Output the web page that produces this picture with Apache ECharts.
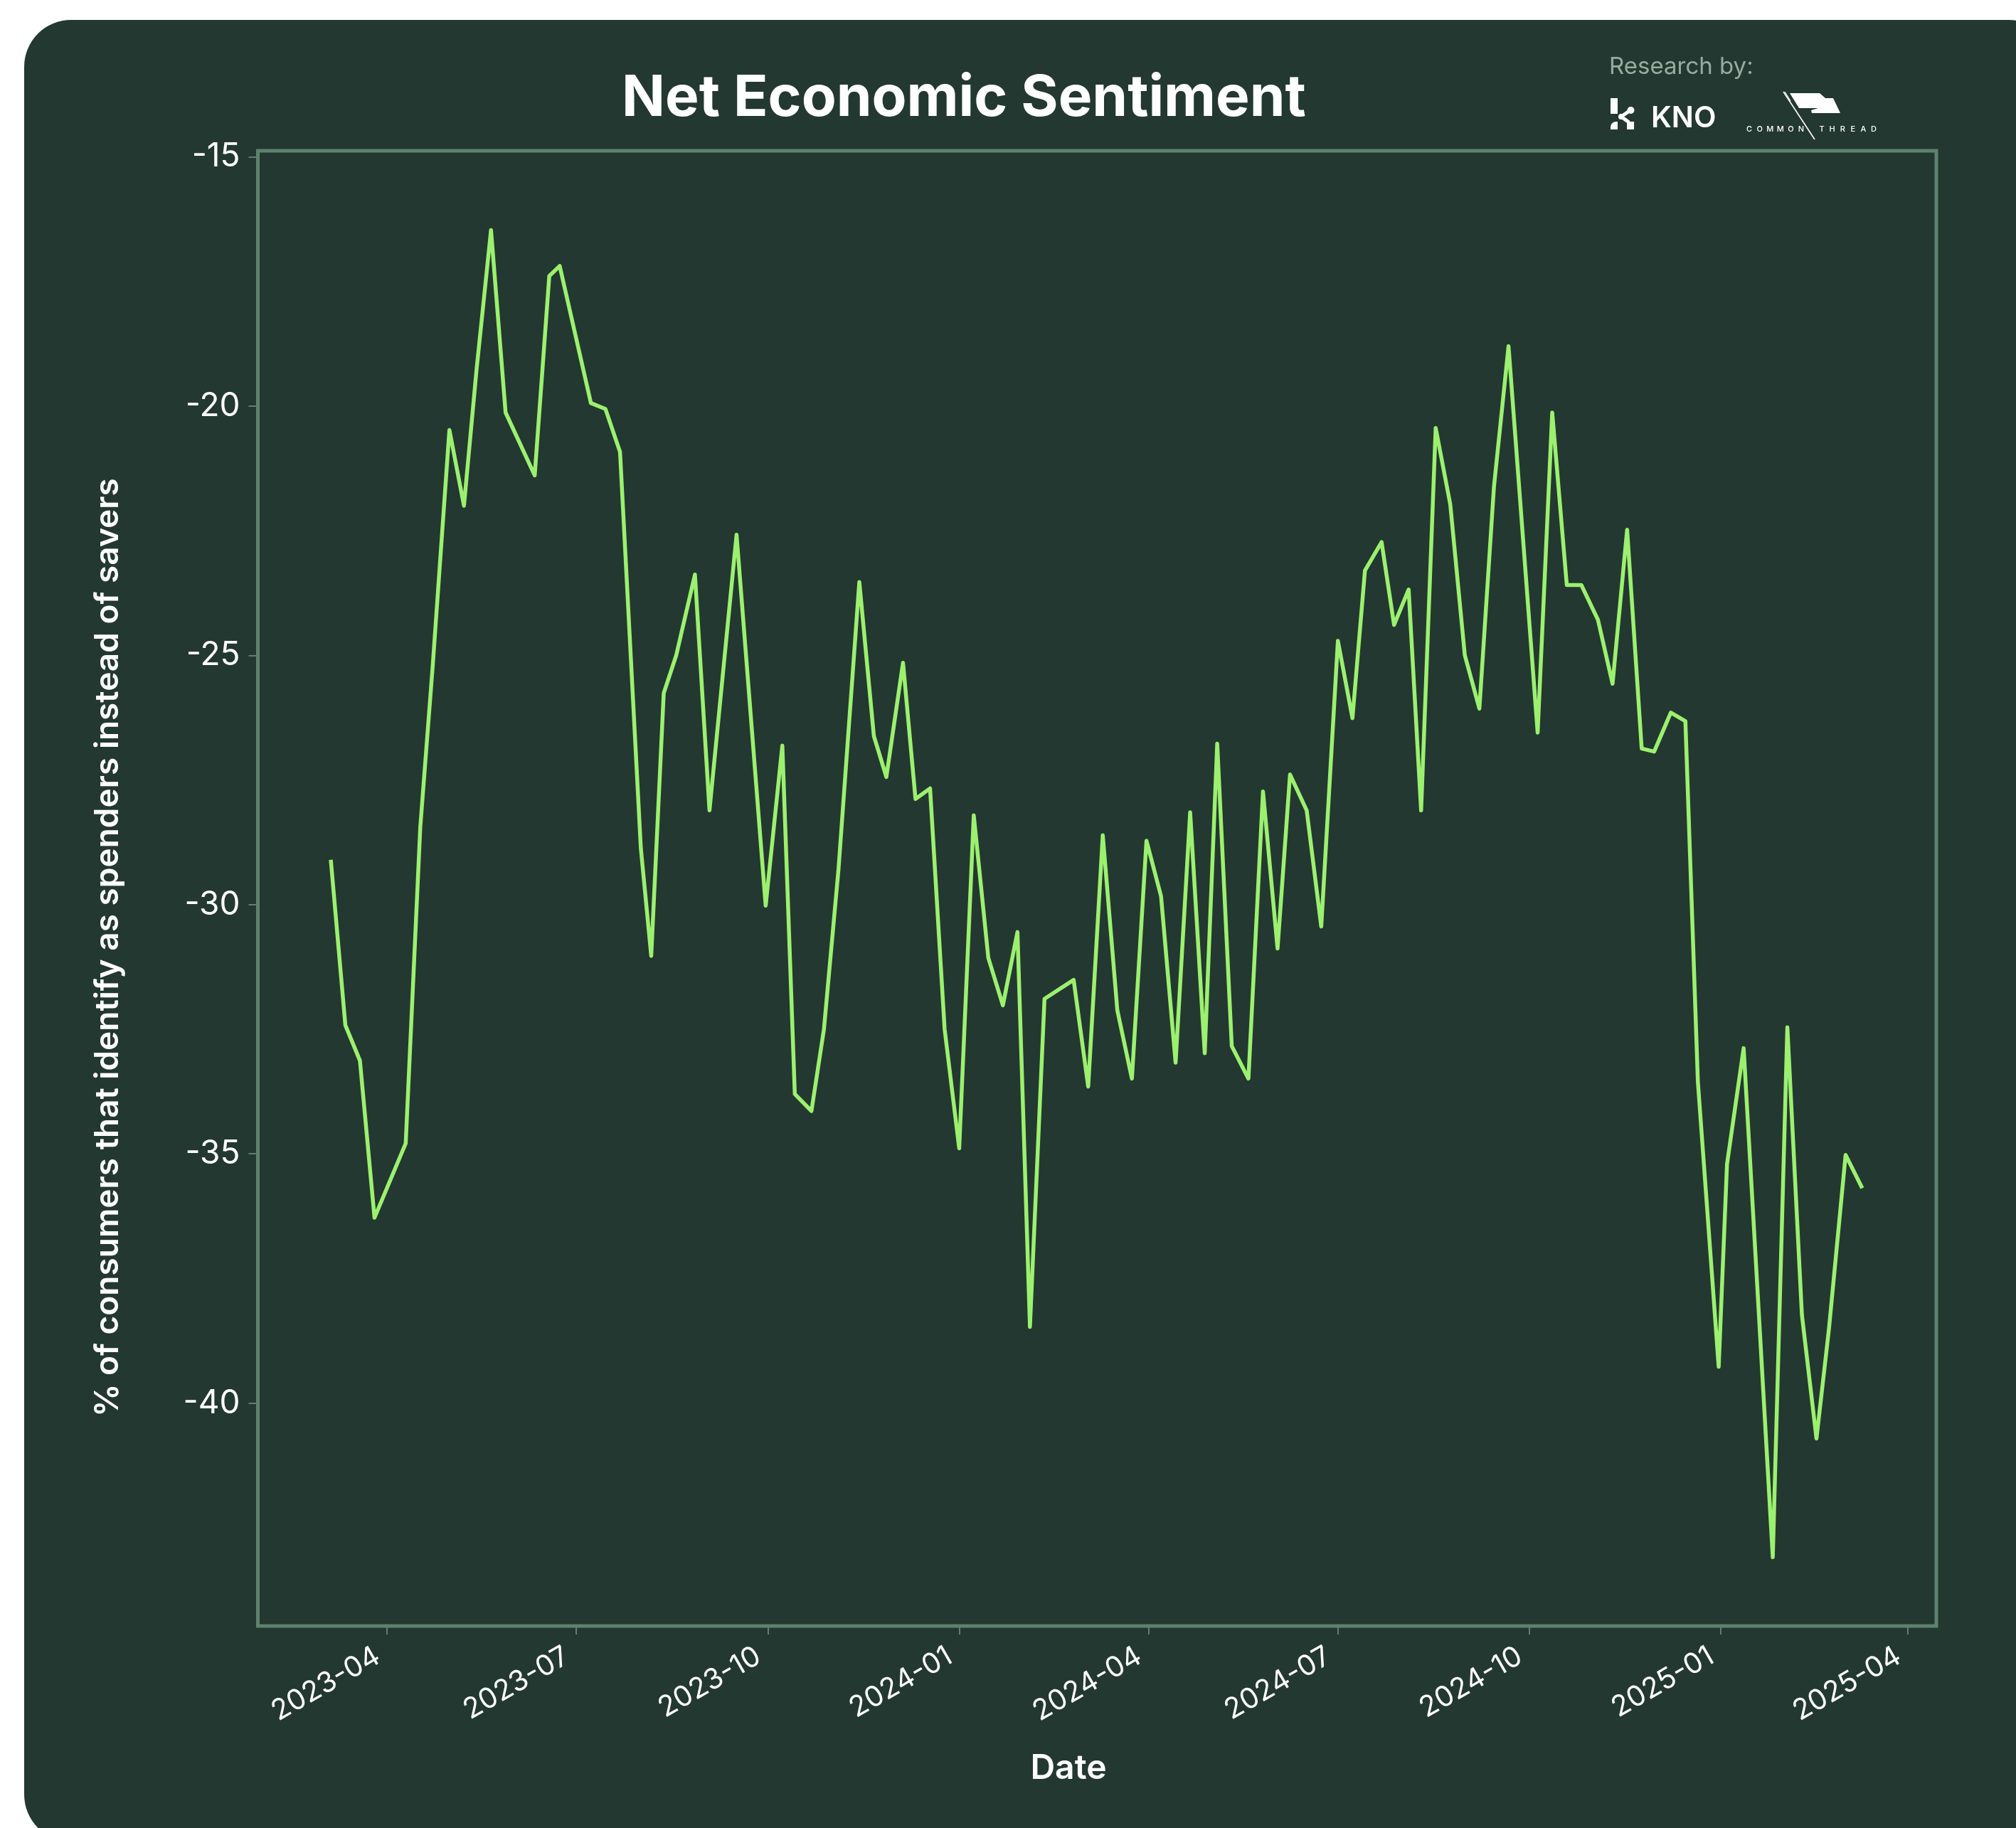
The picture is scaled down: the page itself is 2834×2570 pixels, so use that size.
<!DOCTYPE html>
<html>
<head>
<meta charset="utf-8">
<title>Net Economic Sentiment</title>
<script src="https://cdn.jsdelivr.net/npm/echarts@6/dist/echarts.min.js"></script>
<style>
  html, body { margin: 0; padding: 0; background: #ffffff; }
  #chart { width: 2834px; height: 2570px; }
</style>
</head>
<body>
<div id="chart"></div>
<script>
// Weekly survey readings: share of spenders minus share of savers (percentage points)
const surveyDates = [
  '2023-03-05', '2023-03-12', '2023-03-19', '2023-03-26', '2023-04-10', '2023-04-17',
  '2023-04-23', '2023-05-01', '2023-05-08', '2023-05-14', '2023-05-21', '2023-05-28',
  '2023-06-11', '2023-06-18', '2023-06-23', '2023-07-08', '2023-07-15', '2023-07-22',
  '2023-08-01', '2023-08-06', '2023-08-12', '2023-08-18', '2023-08-27', '2023-09-03',
  '2023-09-16', '2023-09-30', '2023-10-08', '2023-10-14', '2023-10-22', '2023-10-28',
  '2023-11-04', '2023-11-14', '2023-11-21', '2023-11-27', '2023-12-05', '2023-12-11',
  '2023-12-18', '2023-12-25', '2024-01-01', '2024-01-08', '2024-01-15', '2024-01-22',
  '2024-01-29', '2024-02-04', '2024-02-11', '2024-02-25', '2024-03-03', '2024-03-10',
  '2024-03-17', '2024-03-24', '2024-03-31', '2024-04-07', '2024-04-14', '2024-04-21',
  '2024-04-28', '2024-05-04', '2024-05-11', '2024-05-19', '2024-05-26', '2024-06-02',
  '2024-06-08', '2024-06-16', '2024-06-23', '2024-07-01', '2024-07-08', '2024-07-14',
  '2024-07-22', '2024-07-28', '2024-08-04', '2024-08-10', '2024-08-17', '2024-08-24',
  '2024-08-31', '2024-09-07', '2024-09-14', '2024-09-21', '2024-10-05', '2024-10-12',
  '2024-10-19', '2024-10-26', '2024-11-03', '2024-11-10', '2024-11-17', '2024-11-24',
  '2024-11-30', '2024-12-08', '2024-12-15', '2024-12-21', '2024-12-31', '2025-01-04',
  '2025-01-12', '2025-01-26', '2025-02-02', '2025-02-09', '2025-02-16', '2025-02-22',
  '2025-03-02', '2025-03-10'
];

const netSentiment = [
  -29.10, -32.42, -33.13, -36.28, -34.79, -28.45,
  -25.20, -20.48, -22.00, -19.29, -16.47, -20.13,
  -21.39, -17.39, -17.19, -19.94, -20.06, -20.92,
  -28.87, -31.03, -25.76, -25.00, -23.38, -28.11,
  -22.58, -30.02, -26.81, -33.80, -34.14, -32.50,
  -29.29, -23.53, -26.62, -27.44, -25.15, -27.88,
  -27.67, -32.50, -34.89, -28.21, -31.07, -32.02,
  -30.55, -38.47, -31.89, -31.51, -33.65, -28.61,
  -32.12, -33.49, -28.72, -29.83, -33.17, -28.15,
  -32.98, -26.77, -32.84, -33.49, -27.73, -30.88,
  -27.39, -28.11, -30.44, -24.71, -26.26, -23.30,
  -22.73, -24.39, -23.68, -28.11, -20.44, -21.97,
  -25.00, -26.07, -21.62, -18.80, -26.55, -20.13,
  -23.59, -23.59, -24.29, -25.57, -22.48, -26.87,
  -26.93, -26.15, -26.32, -33.55, -39.27, -35.21,
  -32.88, -43.09, -32.46, -38.23, -40.71, -38.51,
  -35.02, -35.69
];

const yTickValues = [-40, -35, -30, -25, -20, -15];
const xTickDates = [
  '2023-04-01', '2023-07-01', '2023-10-01', '2024-01-01', '2024-04-01',
  '2024-07-01', '2024-10-01', '2025-01-01', '2025-04-01'
];

const titleText = 'Net Economic Sentiment';
const yTitleText = '% of consumers that identify as spenders instead of savers';
const xTitleText = 'Date';
const creditText = 'Research by:';

// Palette
const CARD = '#233830';
const FRAME = '#5d8270';
const LINE = '#9cf06f';
const TEXT = '#ffffff';
const MUTED = '#9aaaa2';
const FONT = 'Inter, "Noto Sans", "DejaVu Sans", sans-serif';

const DAY = 86400000;
const toTime = (s) => new Date(s + 'T00:00:00Z').getTime();

// Dates are plotted as UTC timestamps on a numeric axis
const seriesData = surveyDates.map((d, i) => [toTime(d), netSentiment[i]]);
const xTicks = xTickDates.map(toTime);

// Axis extents leave a small margin around the data on both axes
const xMin = toTime('2023-04-01') - 62.05 * DAY;
const xMax = toTime('2025-04-01') + 13.6 * DAY;
const yMin = -44.47;
const yMax = -14.88;

// Logo: "COMMON THREAD" letters with wide tracking
const commonThreadLetters = [];
'COMMON'.split('').forEach((ch, i) => {
  commonThreadLetters.push({
    type: 'text', x: 2459 + i * 14.6, y: 182, z: 10,
    style: { text: ch, fill: TEXT, fontSize: 11, fontWeight: 500, fontFamily: FONT, align: 'center', verticalAlign: 'middle' }
  });
});
'THREAD'.split('').forEach((ch, i) => {
  commonThreadLetters.push({
    type: 'text', x: 2561 + i * 14.6, y: 182, z: 10,
    style: { text: ch, fill: TEXT, fontSize: 11, fontWeight: 500, fontFamily: FONT, align: 'center', verticalAlign: 'middle' }
  });
});

const chart = echarts.init(document.getElementById('chart'), null, { renderer: 'canvas' });

chart.setOption({
  backgroundColor: '#ffffff',
  animation: false,
  grid: {
    left: 362.5,
    top: 212,
    right: 2834 - 2722,
    bottom: 2570 - 2286,
    show: true,
    borderColor: FRAME,
    borderWidth: 5,
    backgroundColor: 'transparent',
    containLabel: false
  },
  xAxis: {
    type: 'value',
    min: xMin,
    max: xMax,
    axisLine: { show: false },
    splitLine: { show: false },
    axisTick: {
      show: true,
      customValues: xTicks,
      length: 12,
      lineStyle: { color: FRAME, width: 2 }
    },
    axisLabel: {
      show: true,
      customValues: xTicks,
      rotate: 30,
      margin: 32,
      padding: [0, 15, 0, 0],
      color: TEXT,
      fontSize: 40,
      fontFamily: FONT,
      formatter: (v) => new Date(v).toISOString().slice(0, 7)
    }
  },
  yAxis: {
    type: 'value',
    min: yMin,
    max: yMax,
    axisLine: { show: false },
    splitLine: { show: false },
    axisTick: {
      show: true,
      customValues: yTickValues,
      length: 13,
      lineStyle: { color: FRAME, width: 2 }
    },
    axisLabel: {
      show: true,
      customValues: yTickValues,
      margin: 25,
      color: TEXT,
      fontSize: 46,
      fontFamily: FONT,
      formatter: (v) => String(v)
    }
  },
  series: [{
    type: 'line',
    data: seriesData,
    showSymbol: false,
    symbol: 'none',
    lineStyle: { color: LINE, width: 5.5, join: 'round', cap: 'butt' },
    z: 5
  }],
  graphic: {
    elements: [
      // Card behind the chart
      {
        type: 'rect', z: -100, silent: true,
        shape: { x: 34, y: 28, width: 2856, height: 2561, r: 66 },
        style: { fill: CARD }
      },
      {
        type: 'text', x: 1355, y: 139, z: 10,
        style: { text: titleText, fill: TEXT, fontSize: 80, fontWeight: 'bold', fontFamily: FONT, align: 'center', verticalAlign: 'middle' }
      },
      {
        type: 'text', x: 152, y: 1332, rotation: Math.PI / 2, z: 10,
        style: { text: yTitleText, fill: TEXT, fontSize: 46, fontWeight: 600, fontFamily: FONT, align: 'center', verticalAlign: 'middle' }
      },
      {
        type: 'text', x: 1502, y: 2487, z: 10,
        style: { text: xTitleText, fill: TEXT, fontSize: 48, fontWeight: 600, fontFamily: FONT, align: 'center', verticalAlign: 'middle' }
      },
      {
        type: 'text', x: 2262, y: 94, z: 10,
        style: { text: creditText, fill: MUTED, fontSize: 33, fontFamily: FONT, align: 'left', verticalAlign: 'middle' }
      },
      // KNO mark
      {
        type: 'group', z: 10,
        children: [
          { type: 'rect', shape: { x: 2264, y: 138, width: 10, height: 22 }, style: { fill: TEXT } },
          { type: 'rect', shape: { x: 2264, y: 171, width: 10, height: 11, r: [8, 0, 0, 0] }, style: { fill: TEXT } },
          { type: 'rect', shape: { x: 2287, y: 171, width: 10, height: 11 }, style: { fill: TEXT } },
          { type: 'circle', shape: { cx: 2292.5, cy: 155, r: 5 }, style: { fill: TEXT } },
          { type: 'polyline', shape: { points: [[2292, 155], [2279, 164], [2290, 172]] }, style: { stroke: TEXT, lineWidth: 5, fill: null } },
          { type: 'circle', shape: { cx: 2279, cy: 164, r: 4 }, style: { fill: TEXT } }
        ]
      },
      {
        type: 'text', x: 2321, y: 167, z: 10,
        style: { text: 'KNO', fill: TEXT, fontSize: 41, fontWeight: 600, fontFamily: FONT, align: 'left', verticalAlign: 'middle' }
      },
      // Common Thread mark: flag and needle
      {
        type: 'polygon', z: 10,
        shape: { points: [[2516, 131], [2558, 131], [2566, 138], [2577, 138], [2587, 159], [2547, 159], [2546, 155], [2556, 152], [2529, 152]] },
        style: { fill: TEXT }
      },
      {
        type: 'line', z: 10,
        shape: { x1: 2507, y1: 129, x2: 2551, y2: 196 },
        style: { stroke: TEXT, lineWidth: 1.6 }
      },
      {
        type: 'line', z: 10,
        shape: { x1: 2509, y1: 129, x2: 2517, y2: 142 },
        style: { stroke: TEXT, lineWidth: 1.2 }
      }
    ].concat(commonThreadLetters)
  }
});
</script>
</body>
</html>
